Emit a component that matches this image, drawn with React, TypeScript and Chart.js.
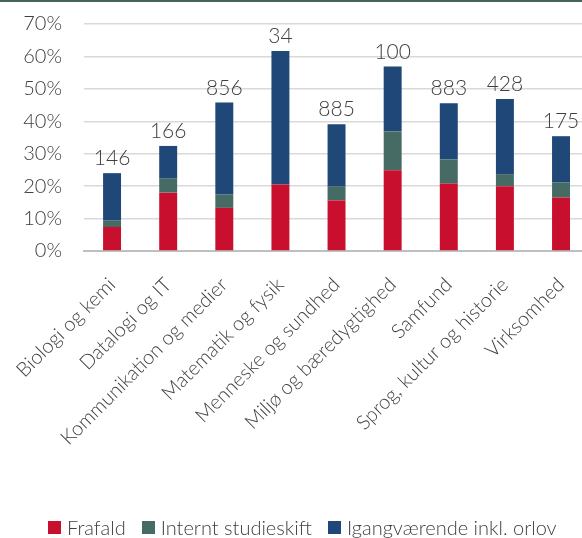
import React, { useEffect, useRef } from "react";
import { Chart, registerables } from "chart.js";

Chart.register(...registerables);

const categories = [
  "Biologi og kemi",
  "Datalogi og IT",
  "Kommunikation og medier",
  "Matematik og fysik",
  "Menneske og sundhed",
  "Miljø og bæredygtighed",
  "Samfund",
  "Sprog, kultur og historie",
  "Virksomhed",
];
const frafald = [7.4, 18.0, 13.3, 20.5, 15.6, 24.9, 20.8, 20.0, 16.5];
const interntStudieskift = [2.1, 4.3, 4.2, 0, 4.4, 12.0, 7.4, 3.7, 4.6];
const igangvaerende = [14.5, 10.1, 28.3, 41.2, 19.1, 20.0, 17.4, 23.2, 14.3];
const totals = ["146", "166", "856", "34", "885", "100", "883", "428", "175"];
const seriesNames = ["Frafald", "Internt studieskift", "Igangværende inkl. orlov"];
const seriesColors = ["#C8102E", "#466A64", "#1F4778"];

const FONT = "Lato, 'Open Sans', sans-serif";
const TEXT = "#404040";

const totalsPlugin = {
  id: "totalsPlugin",
  afterDatasetsDraw(chart: any) {
    const ctx = chart.ctx;
    const meta = chart.getDatasetMeta(2);
    ctx.save();
    ctx.font = `300 21px ${FONT}`;
    ctx.fillStyle = TEXT;
    ctx.textAlign = "center";
    ctx.textBaseline = "bottom";
    meta.data.forEach((el: any, i: number) => {
      ctx.fillText(totals[i], el.x, el.y - 4);
    });
    ctx.restore();
  },
};

export default function App() {
  const ref = useRef<HTMLCanvasElement>(null);
  useEffect(() => {
    if (!ref.current) return;
    const chart = new Chart(ref.current, {
      type: "bar",
      data: {
        labels: categories,
        datasets: seriesNames.map((name, k) => ({
          label: name,
          data: [frafald, interntStudieskift, igangvaerende][k],
          backgroundColor: seriesColors[k],
        })),
      },
      options: {
        responsive: false,
        animation: false,
        layout: { padding: { left: 0, top: 24, right: 0, bottom: 0 } },
        datasets: { bar: { categoryPercentage: 1, barPercentage: 0.32 } },
        plugins: {
          tooltip: { enabled: false },
          legend: { display: false },
        },
        scales: {
          x: {
            stacked: true,
            grid: { display: false },
            border: { color: "#BFBFBF", width: 2 },
            ticks: {
              maxRotation: 45,
              minRotation: 45,
              color: TEXT,
              padding: 14,
              font: { family: FONT, size: 20, weight: "300" as any },
            },
            afterFit: (s: any) => {
              s.height = 287;
            },
          },
          y: {
            stacked: true,
            min: 0,
            max: 70,
            grid: {
              color: "#D9D9D9",
              lineWidth: 1.5,
              drawTicks: true,
              tickLength: 22,
              tickColor: "rgba(0,0,0,0)",
            },
            border: { display: false },
            ticks: {
              stepSize: 10,
              padding: 0,
              color: TEXT,
              font: { family: FONT, size: 20, weight: "300" as any },
              callback: (v: any) => v + "%",
            },
            afterFit: (s: any) => {
              s.width = 84;
            },
          },
        },
      },
      plugins: [totalsPlugin],
    });
    return () => chart.destroy();
  }, []);
  return (
    <div style={{ position: "fixed", left: 0, top: 0, width: 582, height: 538, overflow: "hidden", background: "#fff" }}>
      <canvas ref={ref} width={592} height={538} style={{ display: "block" }} />
      <div style={{ position: "absolute", left: 0, top: 0, width: 582, height: 2, background: "#44655F" }} />
      <div
        style={{
          position: "absolute",
          left: 48,
          top: 515,
          display: "flex",
          alignItems: "center",
          gap: 16,
          fontFamily: FONT,
          fontWeight: 300,
          fontSize: 20,
          color: TEXT,
          whiteSpace: "nowrap",
          lineHeight: "24px",
        }}
      >
        {seriesNames.map((name, k) => (
          <div key={name} style={{ display: "flex", alignItems: "center", gap: 6 }}>
            <span style={{ display: "inline-block", width: 13, height: 13, background: seriesColors[k] }} />
            <span>{name}</span>
          </div>
        ))}
      </div>
    </div>
  );
}
